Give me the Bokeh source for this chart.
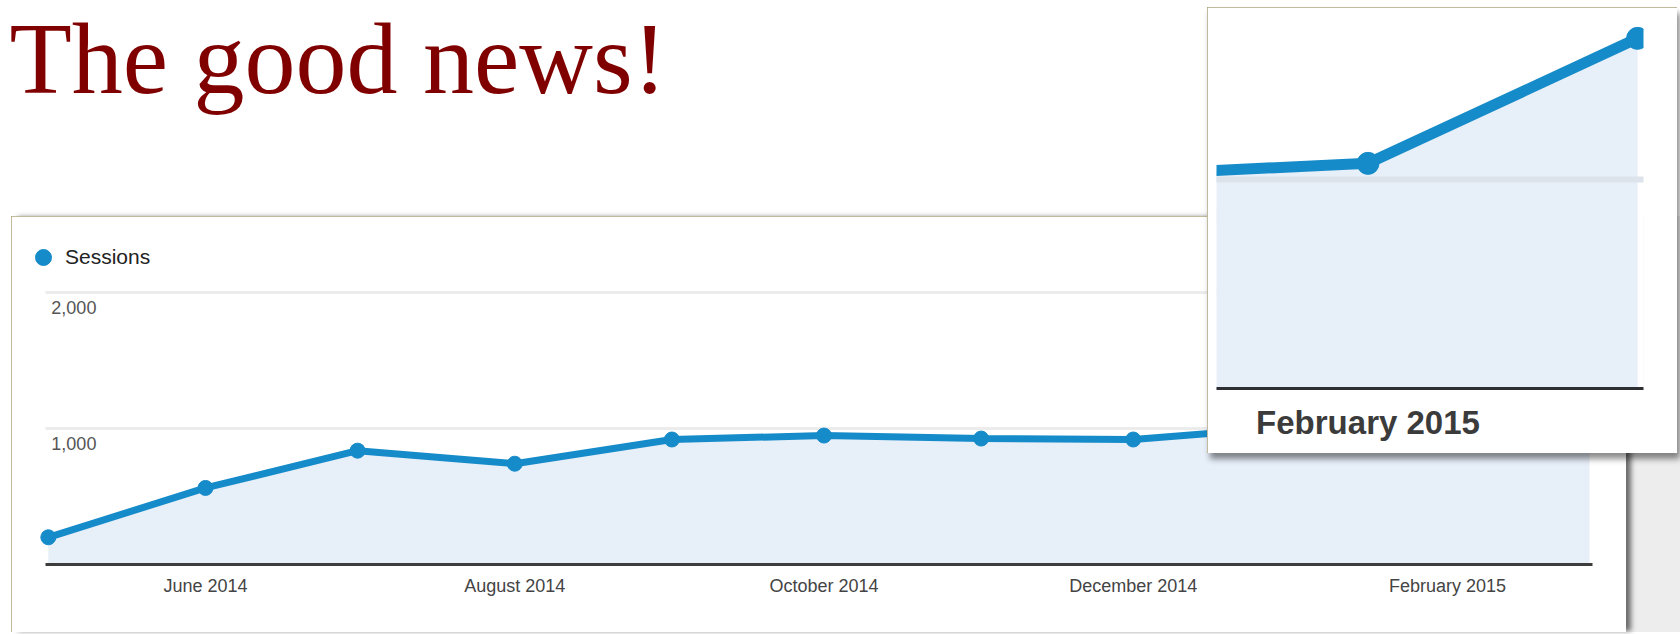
import pandas as pd
from bokeh.plotting import figure
from bokeh.layouts import column
from bokeh.models import (Range1d, FixedTicker, DatetimeTickFormatter, Legend,
                          LegendItem, ColumnDataSource, Grid)
from bokeh.core.properties import value
from bokeh.embed import file_html
from bokeh.resources import INLINE

# ---------------- data ----------------
title_text = "The good news!"
series_name = "Sessions"
months = ["2014-05-01", "2014-06-01", "2014-07-01", "2014-08-01", "2014-09-01",
          "2014-10-01", "2014-11-01", "2014-12-01", "2015-01-01", "2015-02-01",
          "2015-03-01"]
sessions = [200, 563, 837, 741, 919, 948, 926, 919, 1010, 1077, 1675]
y_ticks = [1000, 2000]
y_tick_labels = ["1,000", "2,000"]
x_tick_months = ["2014-06-01", "2014-08-01", "2014-10-01", "2014-12-01", "2015-02-01"]
inset_tick_months = ["2015-02-01"]

# ---------------- styles ----------------
BLUE = "#168bc9"
FILL = "#e7eff9"
SANS = "Liberation Sans"
BORDER = "#aba47d"
DAY = 86400000.0


def ms(s):
    return pd.Timestamp(s).timestamp() * 1000.0


def hide_default_grids(fig):
    for g in fig.grid:
        g.visible = False


dates = pd.to_datetime(months)
src = ColumnDataSource(dict(x=dates, y=sessions))
fmt = dict(days="%B %Y", months="%B %Y", years="%B %Y")

# ---------------- title ----------------
t = figure(width=1680, height=216, x_range=Range1d(0, 1680), y_range=Range1d(0, 216),
           output_backend="svg", toolbar_location=None,
           min_border_left=0, min_border_right=0, min_border_top=0, min_border_bottom=0,
           x_axis_location=None, y_axis_location=None)
t.outline_line_color = None
t.background_fill_color = "white"
t.border_fill_color = "white"
hide_default_grids(t)
t.text(x=[0], y=[158], text=[title_text], text_font=value("Liberation Serif"),
       text_font_size="102px", text_color="#800000", text_baseline="alphabetic",
       text_align="left")

# ---------------- main panel ----------------
PXD = 5.1016  # pixels per day in the main chart
x_start = ms(months[0]) - 28 / PXD * DAY
x_end = ms(months[-1]) + 3 / PXD * DAY
x_axis_start = ms(months[0]) - 3 / PXD * DAY

p = figure(width=1615, height=416, x_axis_type="datetime",
           x_range=Range1d(x_start, x_end), y_range=Range1d(0, 2419),
           y_axis_location=None,
           output_backend="svg", toolbar_location=None,
           min_border_left=9, min_border_right=24, min_border_top=19,
           min_border_bottom=68, margin=(0, 0, 0, 11),
           stylesheets=[":host { position: relative; outline: 2px solid " + BORDER +
                        "; outline-offset: -2px; box-shadow: 6px 0 5px -1px rgba(0,0,0,0.55),"
                        " 56px 0 0 0 #ededed; }"])
p.outline_line_color = None
p.background_fill_color = "white"
p.border_fill_color = "white"
hide_default_grids(p)

p.add_layout(Grid(dimension=1, ticker=FixedTicker(ticks=y_ticks),
                  grid_line_color="#ececec", grid_line_width=3,
                  cross_bounds=(x_axis_start, x_end)), "center")

p.varea(x="x", y1=0, y2="y", source=src, fill_color=FILL)
p.line("x", "y", source=src, line_color=BLUE, line_width=7)
dots = p.scatter("x", "y", source=src, size=15, color=BLUE)

p.text(x=[x_axis_start] * len(y_ticks), y=y_ticks, text=y_tick_labels, x_offset=6,
       y_offset=9, text_baseline="top", text_align="left", text_font=value(SANS),
       text_font_size="18px", text_color="#555555")

xa = p.xaxis[0]
xa.bounds = (x_axis_start, x_end)
xa.ticker = FixedTicker(ticks=[ms(m) for m in x_tick_months])
xa.formatter = DatetimeTickFormatter(**fmt)
xa.axis_line_color = "#3d3d3d"
xa.axis_line_width = 3
xa.major_tick_line_color = None
xa.minor_tick_line_color = None
xa.major_label_text_font = SANS
xa.major_label_text_font_size = "18px"
xa.major_label_text_color = "#444444"
xa.major_label_standoff = 5

leg = Legend(items=[LegendItem(label=series_name, renderers=[dots])],
             location=(3, 287), orientation="horizontal", padding=0, margin=0,
             spacing=0, glyph_width=40, glyph_height=40, label_standoff=2,
             label_height=40, border_line_color=None, background_fill_alpha=0,
             label_text_font=SANS, label_text_font_size="21px",
             label_text_color="#222222")
p.add_layout(leg, "center")

# ---------------- inset (magnified) ----------------
PXD_IN = 9.786  # pixels per day in the inset
ix0 = ms(inset_tick_months[0]) - 154 / PXD_IN * DAY
ix1 = ms(months[-1]) + 6 / PXD_IN * DAY
q = figure(width=470, height=446, x_axis_type="datetime",
           x_range=Range1d(ix0, ix1), y_range=Range1d(0, 1813),
           y_axis_location=None,
           output_backend="svg", toolbar_location=None,
           min_border_left=2, min_border_right=34, min_border_top=2,
           min_border_bottom=65, margin=(-625, 0, 0, 1207),
           stylesheets=[":host { position: relative; outline: 2px solid " + BORDER +
                        "; outline-offset: -2px; box-shadow: 3px 6px 6px rgba(0,0,0,0.45); }"])
q.outline_line_color = None
q.background_fill_color = "white"
q.border_fill_color = "white"
hide_default_grids(q)

q.varea(x="x", y1=0, y2="y", source=src, fill_color=FILL)
q.add_layout(Grid(dimension=1, ticker=FixedTicker(ticks=[1000]),
                  grid_line_color="#dde3ea", grid_line_width=6, level="guide"), "center")
q.line("x", "y", source=src, line_color=BLUE, line_width=11)
q.scatter("x", "y", source=src, size=22, color=BLUE)

qa = q.xaxis[0]
qa.ticker = FixedTicker(ticks=[ms(m) for m in inset_tick_months])
qa.formatter = DatetimeTickFormatter(**fmt)
qa.axis_line_color = "#2e2f33"
qa.axis_line_width = 3
qa.major_tick_line_color = None
qa.minor_tick_line_color = None
qa.major_label_text_font = SANS
qa.major_label_text_font_style = "bold"
qa.major_label_text_font_size = "33px"
qa.major_label_text_color = "#3b3b3b"
qa.major_label_standoff = 9

layout = column(t, p, q, spacing=0)
open("out.html", "w").write(file_html(layout, INLINE))
